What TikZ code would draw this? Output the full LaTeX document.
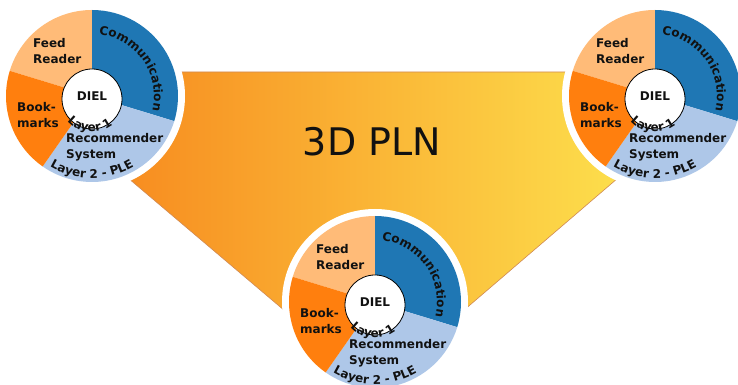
\documentclass[tikz,border=0pt]{standalone}
\usepackage{fontspec}
\usetikzlibrary{decorations.text}
\newfontfamily\dejavu{DejaVu Sans}
\definecolor{comm}{HTML}{1F77B4}
\definecolor{recsys}{HTML}{AEC7E8}
\definecolor{bookm}{HTML}{FF7F0E}
\definecolor{feedr}{HTML}{FFBB78}
\definecolor{plnleft}{HTML}{F7871D}
\definecolor{plnright}{HTML}{FDE44F}
\definecolor{plnedge}{HTML}{D08A55}
\definecolor{ink}{HTML}{111111}
\newcommand{\lblfont}{\dejavu\bfseries\fontsize{12}{16}\selectfont}

\begin{document}
\begin{tikzpicture}[x=1pt,y=1pt,
  lbl/.style={font=\lblfont, text=ink, inner sep=0pt, align=left, anchor=west},
  bend/.style={decorate, decoration={text along path, text align=center,
    text color=ink, text={|\lblfont|#1}}}]
\useasboundingbox (0,0) rectangle (738,385);
\newcommand{\rout}{86}
\newcommand{\rin}{30}
\newcommand{\rw}{93}
\newcommand{\disc}[1]{%
\fill[white] (0,0) circle (\rw);
\fill[feedr] (0,0) -- (163:\rout) arc[start angle=163, end angle=90, radius=\rout] -- cycle;
\fill[comm] (0,0) -- (90:\rout) arc[start angle=90, end angle=-17, radius=\rout] -- cycle;
\fill[recsys] (0,0) -- (-17:\rout) arc[start angle=-17, end angle=-125, radius=\rout] -- cycle;
\fill[bookm] (0,0) -- (-125:\rout) arc[start angle=-125, end angle=-197, radius=\rout] -- cycle;
\draw[fill=white, line width=0.8pt] (0,-3) circle (\rin);
\node[lbl] (#1feed) at (-59,45) {Feed\\Reader};
\node[lbl] (#1book) at (-75,-19) {Book-\\marks};
\node[lbl] (#1rec) at (-26,-51) {Recommender\\System};
\node[lbl, anchor=center] (#1diel) at (0,0) {DIEL};
\path[bend={Communication}] (95:62) arc[start angle=95, end angle=-25, radius=62];
\path[bend={Layer 1}, shift={(0,-3)}] (195:33) arc[start angle=195, end angle=335, radius=33];
\path[bend={Layer 2 - PLE}] (200:82) arc[start angle=200, end angle=340, radius=82];
}
% the gradient band between the three layers
\draw[plnedge, line width=0.6pt, left color=plnleft, right color=plnright]
  (92,313) -- (655,313) -- (618,207) -- (463,74) -- (375,83) -- (285,74) -- (128,207) -- cycle;
\node[font=\dejavu\fontsize{38}{40}\selectfont, text=ink] (title) at (372,243) {3D PLN};
\begin{scope}[shift={(92,289)}]
\disc{tl}
\end{scope}
\begin{scope}[shift={(655,289)}]
\disc{tr}
\end{scope}
\begin{scope}[shift={(375,83)}]
\disc{bt}
\end{scope}
\end{tikzpicture}
\end{document}
